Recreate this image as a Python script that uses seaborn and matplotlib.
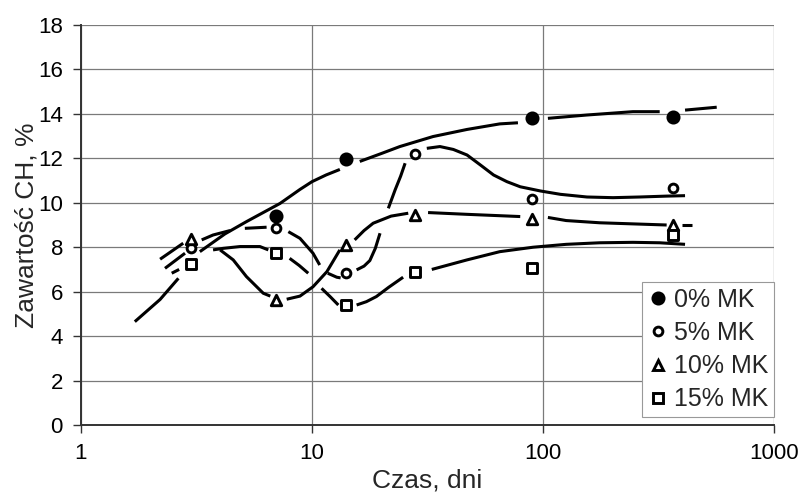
import numpy as np
import pandas as pd
import matplotlib
matplotlib.use("Agg")
import matplotlib.pyplot as plt
from matplotlib.lines import Line2D
import seaborn as sns

# ---- measured points ----
days = [3, 7, 14, 28, 90, 365]
mk0 = [None, 9.4, 11.95, None, 13.8, 13.88]
mk5 = [7.95, 8.88, 6.82, 12.18, 10.15, 10.68]
mk10 = [8.38, 5.64, 8.1, 9.45, 9.28, 9.02]
mk15 = [7.25, 7.73, 5.38, 6.88, 7.08, 8.55]
labels = ["0% MK", "5% MK", "10% MK", "15% MK"]

# ---- hand-drawn trend curves (None = gap in the drawn line) ----
c0_x = [1.71, 2.2, 2.64, None, 3.27, 4.2, 5.2, 7.27, 8.87, 10.0, 11.5, 13.2, None,
        16.1, 20.0, 24.0, 33.4, 46.9, 65.0, 77.9, None, 105, 155, 245, 320, None, 412, 565]
c0_y = [4.65, 5.65, 6.6, None, 7.8, 8.6, 9.15, 9.97, 10.6, 10.95, 11.25, 11.5, None,
        11.86, 12.22, 12.53, 12.98, 13.3, 13.55, 13.6, None, 13.8, 13.95, 14.1, 14.1, None, 14.17, 14.3]

c5_x = [2.31, 2.82, None, 3.33, 3.73, 4.42, None, 5.12, 6.36, None, 7.9, 8.87, 10.1, 10.8, None,
        11.7, 12.8, 13.3, None, 15.6, 16.8, 17.8, 18.8, 19.7, None, 21.4, 22.9, 24.2, 25.3, None,
        31.4, 35.8, 40.9, 46.9, 53.6, 61.1, 69.8, 79.7, 97.6, 119, 155, 201, 262, 343, 412]
c5_y = [7.05, 7.73, None, 8.33, 8.55, 8.75, None, 8.85, 8.9, None, 8.7, 8.4, 7.73, 7.2, None,
        6.83, 6.65, 6.62, None, 6.98, 7.15, 7.4, 7.95, 8.63, None, 9.75, 10.58, 11.2, 11.78, None,
        12.45, 12.53, 12.4, 12.15, 11.7, 11.25, 10.95, 10.72, 10.53, 10.38, 10.26, 10.23, 10.26, 10.3, 10.32]

c10_x = [2.2, 2.77, None, 4.0, 4.56, 5.2, 6.15, 6.6, None, 7.77, 8.87, 10.1, 11.6, 13.2, None,
         15.3, 16.8, 18.4, 22.0, 26.1, None, 31.8, 46.9, 79.7, None, 105, 126, 176, 343, None, 400, 443]
c10_y = [7.46, 8.18, None, 7.88, 7.43, 6.68, 5.93, 5.8, None, 5.66, 5.8, 6.22, 6.9, 7.88, None,
         8.33, 8.75, 9.08, 9.4, 9.53, None, 9.56, 9.48, 9.38, None, 9.34, 9.2, 9.1, 9.0, None, 8.99, 8.99]

c15_x = [2.47, 2.66, None, 3.73, 4.13, 4.88, 5.95, 6.47, None, 8.0, 8.8, 9.63, None, 11.0, 12.0, 13.0, None,
         15.6, 17.2, 19.0, 21.5, 24.8, None, 33.0, 46.9, 65.0, 90.6, 126, 176, 245, 320, 412]
c15_y = [6.83, 7.0, None, 7.88, 7.95, 8.03, 8.03, 7.88, None, 7.5, 7.18, 6.83, None, 6.15, 5.77, 5.4, None,
         5.4, 5.55, 5.78, 6.2, 6.65, None, 7.0, 7.43, 7.8, 8.0, 8.13, 8.2, 8.22, 8.2, 8.13]

xticks = [1, 10, 100, 1000]
yticks = list(range(0, 19, 2))

# ---- build tidy frame of curve segments ----
rows = []
for name, cx, cy in [("0", c0_x, c0_y), ("5", c5_x, c5_y), ("10", c10_x, c10_y), ("15", c15_x, c15_y)]:
    seg = 0
    for xv, yv in zip(cx, cy):
        if xv is None:
            seg += 1
            continue
        rows.append({"x": xv, "y": yv, "unit": f"{name}_{seg}"})
curves = pd.DataFrame(rows)

sns.set_theme(style="white")
plt.rcParams["font.family"] = ["Liberation Sans", "DejaVu Sans"]

fig = plt.figure(figsize=(8, 4.96), dpi=100)
ax = fig.add_axes([81 / 800, 71 / 496, 693 / 800, 400 / 496])

ax.set_xscale("log")
ax.set_xlim(1, 1000)
ax.set_ylim(0, 18)

sns.lineplot(data=curves, x="x", y="y", units="unit", estimator=None, sort=False,
             color="black", linewidth=2.2, ax=ax, legend=False, zorder=3)
for ln in ax.lines:
    ln.set_solid_capstyle("butt")
    ln.set_solid_joinstyle("round")

styles = [
    (mk0, "o", "black", 8.0),
    (mk5, "o", "white", 6.3),
    (mk10, "^", "white", 7.5),
    (mk15, "s", "white", 7.3),
]
handles = []
for (vals, m, fc, ms), lab in zip(styles, labels):
    d = pd.DataFrame({"x": days, "y": [np.nan if v is None else v for v in vals]}).dropna()
    sns.scatterplot(data=d, x="x", y="y", marker=m, s=ms ** 2, color=fc,
                    edgecolor="black", linewidth=2.1, ax=ax, zorder=4, legend=False)
    handles.append(Line2D([], [], linestyle="none", marker=m, markersize=ms,
                          markerfacecolor=fc, markeredgecolor="black", markeredgewidth=2.1,
                          label=lab))

ax.set_xticks(xticks)
ax.set_xticklabels([str(t) for t in xticks])
ax.xaxis.set_minor_locator(matplotlib.ticker.NullLocator())
ax.set_yticks(yticks)
ax.set_yticklabels([str(t) for t in yticks])

ax.grid(True, which="major", color="#7a7a7a", linewidth=0.9)
ax.set_axisbelow(True)
for s in ["top", "right"]:
    ax.spines[s].set_visible(False)
for s in ["left", "bottom"]:
    ax.spines[s].set_visible(True)
    ax.spines[s].set_color("#333333")
    ax.spines[s].set_linewidth(1.4)

ax.tick_params(axis="both", which="major", direction="out", length=6, width=1,
               color="#333333", labelsize=16, labelcolor="black", pad=7, left=True, bottom=True)

ax.set_xlabel("Czas, dni", fontsize=19, labelpad=3)
ax.set_ylabel("Zawartość CH, %", fontsize=19, labelpad=0)

leg = ax.legend(handles=handles, loc="lower right", bbox_to_anchor=(1.0, 0.02),
                fontsize=18, frameon=True, fancybox=False, framealpha=1,
                edgecolor="#999999", borderpad=0.22, labelspacing=0.37,
                handlelength=0.8, handletextpad=0.25, borderaxespad=0)
leg.get_frame().set_linewidth(0.8)
leg.set_zorder(5)

fig.savefig("out.png", dpi=100)
